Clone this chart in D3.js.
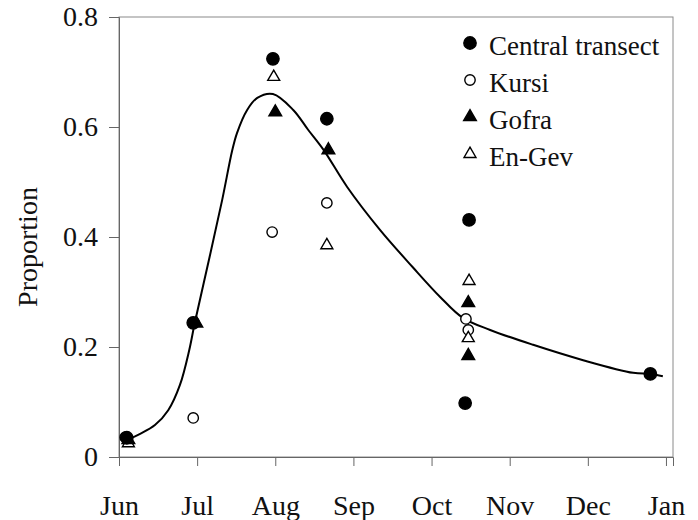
<!DOCTYPE html>
<html>
<head>
<meta charset="utf-8">
<script src="https://cdn.jsdelivr.net/npm/d3@7"></script>
<style>
  body{margin:0;background:#fff}
  svg{display:block}
</style>
</head>
<body>
<div id="chart"></div>
<script>
var monthLabels = ["Jun","Jul","Aug","Sep","Oct","Nov","Dec","Jan"]
var yTicks = [0, 0.2, 0.4, 0.6, 0.8]

// x = months after 1 June
var centralX = [0.10, 0.95, 1.97, 2.66, 4.48, 4.43, 6.80]
var centralY = [0.035, 0.244, 0.724, 0.615, 0.431, 0.098, 0.151]
var kursiX = [0.08, 0.95, 1.96, 2.66, 4.44, 4.47]
var kursiY = [0.036, 0.071, 0.409, 0.462, 0.251, 0.231]
var gofraX = [0.12, 0.99, 2.00, 2.68, 4.47, 4.47]
var gofraY = [0.031, 0.243, 0.627, 0.558, 0.280, 0.184]
var engevX = [0.12, 1.98, 2.66, 4.48, 4.47]
var engevY = [0.025, 0.691, 0.385, 0.320, 0.216]

// fitted curve
var fitX = [0.10, 0.27, 0.46, 0.63, 0.78, 0.90, 0.97, 1.16, 1.32, 1.45, 1.51, 1.64, 1.77, 1.97, 2.23, 2.42, 2.62, 2.92, 3.34, 3.76, 4.11, 4.40, 4.75, 5.30, 5.94, 6.58, 6.80, 6.96]
var fitY = [0.031, 0.042, 0.058, 0.085, 0.131, 0.195, 0.244, 0.364, 0.467, 0.558, 0.589, 0.631, 0.653, 0.660, 0.631, 0.595, 0.558, 0.491, 0.413, 0.345, 0.291, 0.253, 0.231, 0.204, 0.176, 0.153, 0.151, 0.147]

initChart()
function initChart(){
  var width = 698
  var height = 520
  var margin = {top:17, bottom:63, left:119, right:25}
  var font = "'Liberation Serif', 'Times New Roman', serif"

  var svg = d3.select("#chart").append("svg")
      .attr("width", width)
      .attr("height", height)

  var x = d3.scaleLinear()
      .domain([0, 7.09])
      .range([margin.left, width-margin.right])
  var y = d3.scaleLinear()
      .domain([0, 0.8])
      .range([height-margin.bottom, margin.top])

  // frame
  svg.append("rect")
    .attr("x", margin.left)
    .attr("y", margin.top)
    .attr("width", width-margin.left-margin.right)
    .attr("height", height-margin.top-margin.bottom)
    .attr("fill", "none")
    .attr("stroke", "#8a8a8a")
    .attr("stroke-width", 1)

  var yAxis = svg.append("g")
    .attr("transform", "translate("+margin.left+",0)")
    .call(d3.axisLeft(y).tickValues(yTicks).tickSize(10).tickPadding(11)
      .tickFormat(function(d){ return d==0 ? "0" : d3.format(".1f")(d) }))
  var xAxis = svg.append("g")
    .attr("transform", "translate(0,"+(height-margin.bottom)+")")
    .call(d3.axisBottom(x).tickValues(d3.range(monthLabels.length)).tickSize(9).tickPadding(29)
      .tickFormat(function(d){ return monthLabels[d] }))

  svg.selectAll(".domain").attr("stroke", "#666")
  svg.selectAll(".tick line").attr("stroke", "#666")
  svg.selectAll(".tick text").attr("font-family", font).attr("font-size", 28).attr("fill", "#111")

  svg.append("text")
    .text("Proportion")
    .attr("transform", "translate(37,"+((margin.top+height-margin.bottom)/2+10)+") rotate(-90)")
    .attr("text-anchor", "middle")
    .attr("font-family", font)
    .attr("font-size", 28)
    .attr("fill", "#111")

  var line = d3.line()
    .x(function(d){ return x(d[0]) })
    .y(function(d){ return y(d[1]) })
    .curve(d3.curveCatmullRom.alpha(0.5))

  svg.append("path")
    .datum(d3.zip(fitX, fitY))
    .attr("d", line)
    .attr("fill", "none")
    .attr("stroke", "#000")
    .attr("stroke-width", 2)

  var circle = d3.symbol().type(d3.symbolCircle)
  var tri = d3.symbol().type(d3.symbolTriangle)

  var series = [
    {name:"Central transect", xs:centralX, ys:centralY, sym:circle.size(120)(), fill:"#000"},
    {name:"Kursi", xs:kursiX, ys:kursiY, sym:circle.size(85)(), fill:"#fff"},
    {name:"Gofra", xs:gofraX, ys:gofraY, sym:tri.size(70)(), fill:"#000"},
    {name:"En-Gev", xs:engevX, ys:engevY, sym:tri.size(62)(), fill:"#fff"}
  ]

  // open markers first so the filled ones sit on top
  var order = [1, 3, 2, 0]
  order.forEach(function(k){
    var s = series[k]
    svg.append("g").selectAll("path")
      .data(d3.zip(s.xs, s.ys))
      .enter()
      .append("path")
      .attr("d", s.sym)
      .attr("transform", function(d){ return "translate("+x(d[0])+","+y(d[1])+")" })
      .attr("fill", s.fill)
      .attr("stroke", "#000")
      .attr("stroke-width", 1.4)
  })

  // legend
  var legend = svg.append("g").attr("transform", "translate(470,43)")
  series.forEach(function(s, i){
    legend.append("path")
      .attr("d", s.sym)
      .attr("transform", "translate(0,"+(i*37)+")")
      .attr("fill", s.fill)
      .attr("stroke", "#000")
      .attr("stroke-width", 1.4)
    legend.append("text")
      .text(s.name)
      .attr("x", 19)
      .attr("y", i*37+12)
      .attr("font-family", font)
      .attr("font-size", 27)
      .attr("fill", "#111")
  })
}
</script>
</body>
</html>
